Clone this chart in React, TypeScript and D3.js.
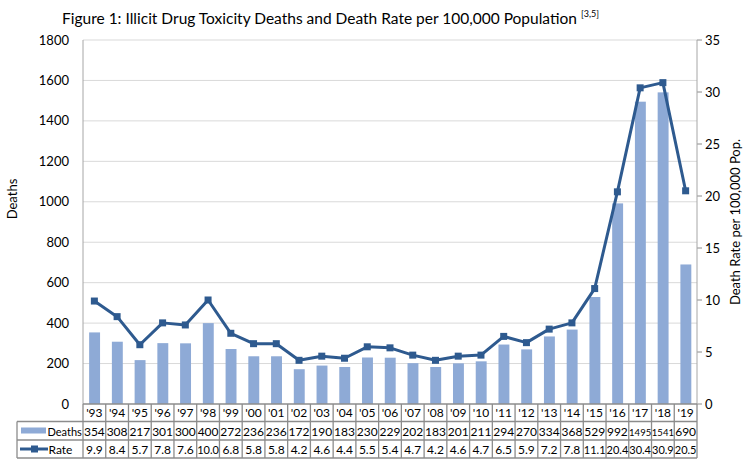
import React from "react";
import * as d3 from "d3";

const years = ["'93","'94","'95","'96","'97","'98","'99","'00","'01","'02","'03","'04","'05","'06","'07","'08","'09","'10","'11","'12","'13","'14","'15","'16","'17","'18","'19"];
const deaths = [354,308,217,301,300,400,272,236,236,172,190,183,230,229,202,183,201,211,294,270,334,368,529,992,1495,1541,690];
const rates = [9.9,8.4,5.7,7.8,7.6,10.0,6.8,5.8,5.8,4.2,4.6,4.4,5.5,5.4,4.7,4.2,4.6,4.7,6.5,5.9,7.2,7.8,11.1,20.4,30.4,30.9,20.5];
const leftTicks = [0,200,400,600,800,1000,1200,1400,1600,1800];
const rightTicks = [0,5,10,15,20,25,30,35];

const W = 750, H = 466;
const L = 83, R = 697, T = 40, B = 404;
const ROW1 = 421.5, ROW2 = 440, ROW3 = 458;
const TBL_LEFT = 17;
const BAR = "#8eaad6";
const LINE = "#2e5a8f";
const FONT = "Lato, 'Noto Sans', sans-serif";

export default function App() {
  const xb = d3.scaleBand<string>().domain(years).range([L, R]);
  const yL = d3.scaleLinear().domain([0, 1800]).range([B, T]);
  const yR = d3.scaleLinear().domain([0, 35]).range([B, T]);
  const line = d3.line<number>().x((_, i) => (xb(years[i]) as number) + xb.bandwidth() / 2).y(d => yR(d));
  const bw = xb.bandwidth();
  return (
    <svg width={W} height={H} style={{ display: "block", position: "absolute", left: 0, top: 0, background: "#fff" }} fontFamily={FONT}>
      <text x={62} y={24} fontSize={15.5} fill="#000">
        Figure 1: Illicit Drug Toxicity Deaths and Death Rate per 100,000 Population
        <tspan dx={4} dy={-7} fontSize={9}>[3,5]</tspan>
      </text>
      {leftTicks.map(t => (
        <g key={"l" + t}>
          {t > 0 && <line x1={L} x2={R} y1={yL(t)} y2={yL(t)} stroke="#d9d9d9" strokeWidth={1} />}
          <text x={69} y={yL(t) + 4.5} fontSize={13} textAnchor="end" fill="#000">{t}</text>
        </g>
      ))}
      {rightTicks.map(t => (
        <g key={"r" + t}>
          <line x1={R} x2={R + 5} y1={yR(t)} y2={yR(t)} stroke="#8c8c8c" />
          <text x={705} y={yR(t) + 4.5} fontSize={13} textAnchor="start" fill="#000">{t}</text>
        </g>
      ))}
      {years.map((yr, i) => (
        <rect key={"b" + yr} x={(xb(yr) as number) + bw * 0.27} width={bw * 0.48} y={yL(deaths[i])} height={B - yL(deaths[i])} fill={BAR} />
      ))}
      <line x1={L} x2={L} y1={T} y2={B} stroke="#a6a6a6" />
      <line x1={R} x2={R} y1={T} y2={B} stroke="#a6a6a6" />
      <path d={line(rates) || ""} fill="none" stroke={LINE} strokeWidth={3} strokeLinejoin="round" />
      {rates.map((r, i) => {
        const cx = (xb(years[i]) as number) + bw / 2;
        return <rect key={"m" + i} x={cx - 3.5} y={yR(r) - 3.5} width={7} height={7} fill={LINE} />;
      })}
      <text transform={`translate(17,199) rotate(-90)`} fontSize={13} textAnchor="middle" fill="#000">Deaths</text>
      <text transform={`translate(740,222) rotate(-90)`} fontSize={13} textAnchor="middle" fill="#000">Death Rate per 100,000 Pop.</text>
      <g stroke="#8c8c8c" strokeWidth={1.3} fill="none">
        <line x1={L} x2={R} y1={B} y2={B} />
        <line x1={TBL_LEFT} x2={R} y1={ROW1} y2={ROW1} />
        <line x1={TBL_LEFT} x2={R} y1={ROW2} y2={ROW2} />
        <line x1={TBL_LEFT} x2={R} y1={ROW3} y2={ROW3} />
        <line x1={TBL_LEFT} x2={TBL_LEFT} y1={ROW1} y2={ROW3} />
        {years.map(yr => (
          <line key={"v" + yr} x1={xb(yr)} x2={xb(yr)} y1={B} y2={ROW3} />
        ))}
        <line x1={R} x2={R} y1={B} y2={ROW3} />
      </g>
      {years.map((yr, i) => {
        const cx = (xb(yr) as number) + bw / 2;
        return (
          <g key={"t" + yr} textAnchor="middle" fill="#000">
            <text x={cx} y={ROW1 - 4.5} fontSize={12}>{yr}</text>
            <text x={cx} y={ROW2 - 4.5} fontSize={deaths[i] >= 1000 ? 9.5 : 12}>{deaths[i]}</text>
            <text x={cx} y={ROW3 - 4.5} fontSize={rates[i] >= 10 ? 11 : 12}>{rates[i].toFixed(1)}</text>
          </g>
        );
      })}
      <rect x={21} y={427.5} width={25} height={6} fill={BAR} />
      <text x={47.5} y={ROW2 - 4.5} fontSize={11} fill="#000">Deaths</text>
      <line x1={20} x2={48} y1={449} y2={449} stroke={LINE} strokeWidth={3} />
      <rect x={31} y={445.5} width={7} height={7} fill={LINE} />
      <text x={48.5} y={ROW3 - 4.5} fontSize={12} fill="#000">Rate</text>
    </svg>
  );
}
